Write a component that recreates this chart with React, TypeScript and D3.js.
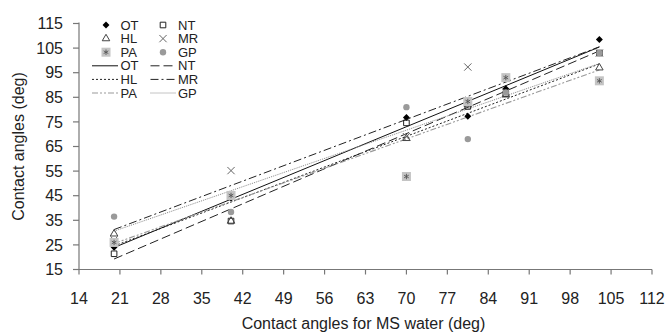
import React from "react";
import * as d3 from "d3";

const xValues = [20, 40, 70, 80.5, 87, 103];
const seriesNames = ["OT", "NT", "HL", "MR", "PA", "GP"];
const otValues = [24, 44, 76.8, 77.3, 88.5, 108.5];
const ntValues = [21.4, 34.7, 74.6, 81.3, 86.5, 103];
const hlValues = [29.5, 34.7, 68.3, 82, 86, 97];
const mrValues = [27, 55.2, 69, 97.3, 87, 103];
const paValues = [26, 45.1, 52.8, 83.3, 93, 91.7];
const gpValues = [36.5, 38.4, 81, 68, 87, 103];
const xTicks = [14, 21, 28, 35, 42, 49, 56, 63, 70, 77, 84, 91, 98, 105, 112];
const yTicks = [15, 25, 35, 45, 55, 65, 75, 85, 95, 105, 115];

const seriesValues = [otValues, ntValues, hlValues, mrValues, paValues, gpValues];

const W = 667, H = 334;
const left = 79, right = 652, top = 23.5, bottom = 269.5;

const lineStyles: Record<string, { stroke: string; dash: string; width: number }> = {
  OT: { stroke: "#111", dash: "", width: 1 },
  NT: { stroke: "#222", dash: "9,4", width: 1 },
  HL: { stroke: "#222", dash: "2,2", width: 1 },
  MR: { stroke: "#222", dash: "8,3,2,3", width: 1 },
  PA: { stroke: "#999", dash: "6,2,2,2,2,2", width: 1.1 },
  GP: { stroke: "#888", dash: "1,1", width: 1 },
};

function fit(xs: number[], ys: number[]) {
  const mx = d3.mean(xs) as number, my = d3.mean(ys) as number;
  const sxy = d3.sum(xs.map((x, i) => (x - mx) * (ys[i] - my)));
  const sxx = d3.sum(xs.map((x) => (x - mx) * (x - mx)));
  const b = sxy / sxx;
  return { a: my - b * mx, b };
}

function Marker({ name, x, y }: { name: string; x: number; y: number }) {
  const sym = (type: d3.SymbolType, size: number) => d3.symbol().type(type).size(size)() as string;
  const t = `translate(${x},${y})`;
  switch (name) {
    case "OT":
      return <path transform={`${t} rotate(45)`} d={sym(d3.symbolSquare, 24)} fill="#000" />;
    case "NT":
      return <path transform={t} d={sym(d3.symbolSquare2, 40)} fill="#fff" fillOpacity={0} stroke="#222" strokeWidth={1} />;
    case "HL":
      return <path transform={t} d={sym(d3.symbolTriangle2, 40)} fill="none" stroke="#444" strokeWidth={1} />;
    case "MR":
      return <path transform={t} d={sym(d3.symbolTimes, 36)} fill="none" stroke="#666" strokeWidth={1} />;
    case "PA":
      return (
        <g transform={t}>
          <rect x={-4.5} y={-4.5} width={9} height={9} fill="#c4c4c4" />
          <path d={sym(d3.symbolAsterisk, 20)} fill="none" stroke="#555" strokeWidth={0.9} />
        </g>
      );
    default:
      return <circle cx={x} cy={y} r={3.2} fill="#9a9a9a" />;
  }
}

export default function App() {
  const xs = d3.scaleLinear().domain([14, 112]).range([left, right]);
  const ys = d3.scaleLinear().domain([15, 115]).range([bottom, top]);
  const xMin = d3.min(xValues) as number, xMax = d3.max(xValues) as number;
  const font = "'Liberation Sans', Arial, sans-serif";
  const order = [["OT", "NT"], ["HL", "MR"], ["PA", "GP"]];

  const legendX1 = 106, legendX2 = 163, legendY = 25, legendDy = 13.6;

  return (
    <svg width={W} height={H} style={{ position: "absolute", left: 0, top: 0, background: "#fff" }} fontFamily={font}>
      {seriesNames.map((n, i) => {
        const { a, b } = fit(xValues, seriesValues[i]);
        const st = lineStyles[n];
        return (
          <line key={"l" + n} x1={xs(xMin)} y1={ys(a + b * xMin)} x2={xs(xMax)} y2={ys(a + b * xMax)}
            stroke={st.stroke} strokeDasharray={st.dash} strokeWidth={st.width} />
        );
      })}
      {seriesNames.map((n, i) => (
        <g key={"p" + n}>
          {xValues.map((x, j) => (
            <Marker key={j} name={n} x={xs(x)} y={ys(seriesValues[i][j])} />
          ))}
        </g>
      ))}
      <line x1={left} y1={ys(115) - 1} x2={left} y2={bottom} stroke="#777" strokeWidth={1.2} />
      <line x1={left} y1={bottom} x2={right} y2={bottom} stroke="#777" strokeWidth={1.2} />
      {yTicks.map((t) => (
        <g key={"y" + t}>
          <line x1={left - 6} x2={left} y1={ys(t)} y2={ys(t)} stroke="#777" strokeWidth={1.2} />
          <text x={63} y={ys(t)} dy="0.35em" textAnchor="end" fontSize={16} fill="#222">{t}</text>
        </g>
      ))}
      {xTicks.map((t) => (
        <g key={"x" + t}>
          <line x1={xs(t)} x2={xs(t)} y1={bottom} y2={bottom + 5} stroke="#777" strokeWidth={1.2} />
          <text x={xs(t)} y={298} dy="0.35em" textAnchor="middle" fontSize={16} fill="#222">{t}</text>
        </g>
      ))}
      <text x={(left + right) / 2 - 2} y={323} dy="0.35em" textAnchor="middle" fontSize={16} fill="#222">
        Contact angles for MS water (deg)
      </text>
      <text transform={`translate(18,${(top + bottom) / 2}) rotate(-90)`} dy="0.35em" textAnchor="middle" fontSize={16} fill="#222">
        Contact angles (deg)
      </text>
      {order.map((pair, row) =>
        pair.map((name, col) => {
          const mx = col === 0 ? legendX1 : legendX2;
          const tx = col === 0 ? 120.5 : 178;
          const y = legendY + row * legendDy;
          return (
            <g key={"lg" + name}>
              <Marker name={name} x={mx} y={y} />
              <text x={tx} y={y} dy="0.35em" fontSize={13} fill="#222">{name}</text>
            </g>
          );
        })
      )}
      {order.map((pair, row) =>
        pair.map((name, col) => {
          const st = lineStyles[name];
          const x0 = col === 0 ? 92 : 150.5;
          const tx = col === 0 ? 120.5 : 178;
          const y = legendY + (row + 3) * legendDy;
          return (
            <g key={"ll" + name}>
              <line x1={x0} x2={x0 + 26} y1={y} y2={y} stroke={st.stroke} strokeDasharray={st.dash} strokeWidth={st.width} />
              <text x={tx} y={y} dy="0.35em" fontSize={13} fill="#222">{name}</text>
            </g>
          );
        })
      )}
    </svg>
  );
}
